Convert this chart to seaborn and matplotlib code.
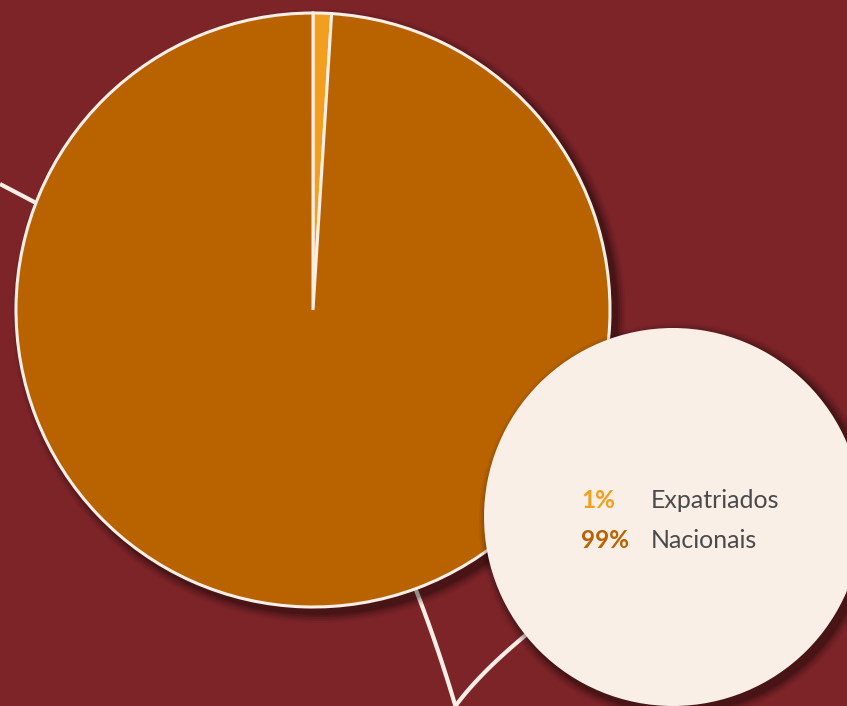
import matplotlib
matplotlib.use("Agg")
import matplotlib.pyplot as plt
import seaborn as sns
import numpy as np
from matplotlib.patches import Circle

categories = ["Expatriados", "Nacionais"]
values = [1, 99]
labels_pct = ["1%", "99%"]

sns.set_style("white")
plt.rcParams['font.family'] = ['Lato', 'DejaVu Sans']

BG = "#7D2429"
CREAM = "#FAEFE7"
palette = sns.color_palette(["#F29F1F", "#B86200"])

W, H = 847, 706
fig = plt.figure(figsize=(W / 100, H / 100), dpi=100, facecolor=BG)
ax = fig.add_axes([0, 0, 1, 1])
ax.set_facecolor(BG)
ax.set_xlim(0, W)
ax.set_ylim(0, H)
ax.set_aspect("equal")
ax.axis("off")

def py(y):
    return H - y

def bez(p0, p1, p2, n=40):
    t = np.linspace(0, 1, n)[:, None]
    p0, p1, p2 = map(np.array, (p0, p1, p2))
    pts = (1 - t) ** 2 * p0 + 2 * (1 - t) * t * p1 + t ** 2 * p2
    return pts[:, 0], H - pts[:, 1]

# decorative lines
ax.plot([0, 40], [py(184), py(205)], color=CREAM, lw=3, solid_capstyle="butt", zorder=1)
x, y = bez((412, 580), (436, 640), (456, 708))
ax.plot(x, y, color=CREAM, lw=3, zorder=1)
x, y = bez((454, 708), (480, 672), (532, 630))
ax.plot(x, y, color=CREAM, lw=3, zorder=1)

# pie shadow
pc = (313, py(310))
R = 297
for dr, a in [(10, 0.05), (8, 0.07), (6, 0.09), (4, 0.12), (2, 0.15)]:
    ax.add_patch(Circle((pc[0] + 6, pc[1] - 6), R + dr, color="black", alpha=a, lw=0, zorder=2))

ax.pie(values, colors=palette, startangle=90, counterclock=False, center=pc, radius=R,
       wedgeprops=dict(edgecolor=CREAM, linewidth=2.2), frame=True)
for w in ax.patches[-2:]:
    w.set_zorder(3)
ax.set_xlim(0, W)
ax.set_ylim(0, H)
ax.axis("off")

# cream circle with shadow
cc = (673, py(517))
Rc = 189
for dr, a in [(10, 0.05), (8, 0.07), (6, 0.09), (4, 0.12), (2, 0.15)]:
    ax.add_patch(Circle((cc[0] + 5, cc[1] - 5), Rc + dr, color="black", alpha=a, lw=0, zorder=4))
ax.add_patch(Circle(cc, Rc, color=CREAM, lw=0, zorder=5))

# legend text
ys = [500, 541]
for lab, pct, col, y in zip(categories, labels_pct, palette, ys):
    ax.text(581, py(y), pct, color=col, fontsize=17.5, fontweight="bold", va="center", ha="left", zorder=6)
    ax.text(651, py(y), lab, color="#4A4A4A", fontsize=18, va="center", ha="left", zorder=6)

fig.savefig("out.png", dpi=100, facecolor=BG)
